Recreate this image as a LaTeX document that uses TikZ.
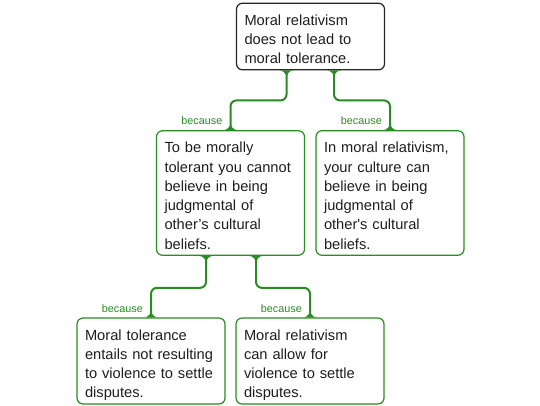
\documentclass[tikz,border=0pt]{standalone}
\usepackage{fontspec}
\setmainfont{Liberation Sans}[Ligatures=TeXOff]
\usetikzlibrary{positioning}
\definecolor{linkgreen}{RGB}{40,140,34}
\definecolor{boxtext}{RGB}{30,30,30}
\newcommand{\flare}[2]{\fill[linkgreen] (#1) ++(-7,0) .. controls +(4,0) and +(0,-3*#2) .. ++(7,7*#2) .. controls +(0,-3*#2) and +(-4,0) .. ++(7,-7*#2) -- cycle;}

\begin{document}
\begin{tikzpicture}[x=1pt, y=-1pt,
    box/.style={rectangle, draw, rounded corners=6pt, line width=1.2pt,
      text width=132pt, inner xsep=8pt, inner ysep=0pt, align=left, text=boxtext,
      font=\fontsize{14.67}{19.3}\selectfont,
      execute at begin node={\rule{0pt}{22pt}},
      execute at end node={\rule[-6pt]{0pt}{6pt}}},
    claimbox/.style={box, draw=black!85},
    reasonbox/.style={box, draw=linkgreen},
    link/.style={draw=linkgreen, line width=2pt, rounded corners=6pt},
    lbl/.style={text=linkgreen, font=\fontsize{10.8}{12}\selectfont, inner sep=1pt}]
    \useasboundingbox (0,0) rectangle (540,405);
    \node[claimbox] (claim) at (310.5,36.5) {Moral relativism\\ does not lead to\\ moral tolerance.};
    \node[reasonbox] (ra) at (230.5,193) {To be morally\\ tolerant you cannot\\ believe in being\\ judgmental of\\ other’s cultural\\ beliefs.};
    \node[reasonbox] (rb) at (390,193) {In moral relativism,\\ your culture can\\ believe in being\\ judgmental of\\ other's cultural\\ beliefs.};
    \node[reasonbox] (oa) at (151,361) {Moral tolerance\\ entails not resulting\\ to violence to settle\\ disputes.};
    \node[reasonbox] (ob) at (310,361) {Moral relativism\\ can allow for\\ violence to settle\\ disputes.};
    \draw[link] ([xshift=-24pt]claim.south) -- ++(0,30) -| (ra.north);
    \draw[link] ([xshift=23.5pt]claim.south) -- ++(0,30) -| (rb.north);
    \draw[link] ([xshift=-24.5pt]ra.south) -- ++(0,32) -| (oa.north);
    \draw[link] ([xshift=25.5pt]ra.south) -- ++(0,32) -| (ob.north);
    \flare{[xshift=-24pt]claim.south}{1}
    \flare{[xshift=23.5pt]claim.south}{1}
    \flare{[xshift=-24.5pt]ra.south}{1}
    \flare{[xshift=25.5pt]ra.south}{1}
    \flare{ra.north}{-1}
    \flare{rb.north}{-1}
    \flare{oa.north}{-1}
    \flare{ob.north}{-1}
    \node[lbl, above left=4pt and 7pt of ra.north] (becra) {because};
    \node[lbl, above left=4pt and 7pt of rb.north] (becrb) {because};
    \node[lbl, above left=4pt and 7pt of oa.north] (becoa) {because};
    \node[lbl, above left=4pt and 7pt of ob.north] (becob) {because};
\end{tikzpicture}
\end{document}
